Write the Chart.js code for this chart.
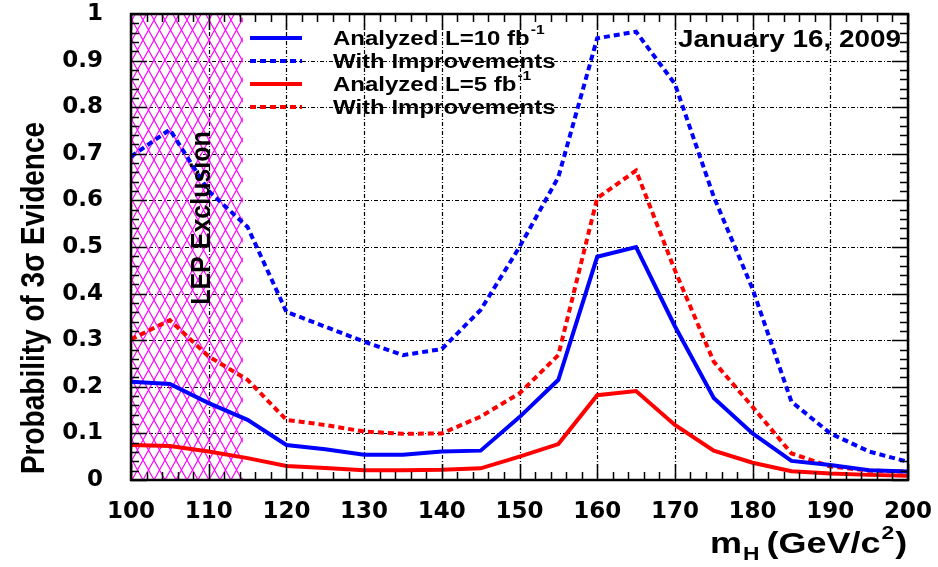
<!DOCTYPE html>
<html>
<head>
<meta charset="utf-8">
<script src="https://cdn.jsdelivr.net/npm/chart.js"></script>
<style>
  body { margin: 0; background: #fff; }
  #wrap { width: 938px; height: 567px; }
</style>
</head>
<body>
<div id="wrap"><canvas id="chart" width="938" height="567"></canvas></div>
<script>
// -------------------- Data --------------------
const massH = [100, 105, 110, 115, 120, 125, 130, 135, 140, 145, 150,
               155, 160, 165, 170, 175, 180, 185, 190, 195, 200];
const analyzed10 = [0.211, 0.206, 0.165, 0.129, 0.075, 0.066, 0.054, 0.054, 0.061, 0.063, 0.135,
                    0.215, 0.479, 0.50, 0.33, 0.176, 0.10, 0.041, 0.032, 0.021, 0.018];
const improved10 = [0.694, 0.752, 0.62, 0.543, 0.361, 0.329, 0.297, 0.268, 0.281, 0.365, 0.50,
                    0.65, 0.948, 0.962, 0.85, 0.608, 0.41, 0.168, 0.10, 0.061, 0.039];
const analyzed5 = [0.075, 0.073, 0.061, 0.047, 0.030, 0.026, 0.021, 0.021, 0.022, 0.025, 0.05,
                   0.077, 0.182, 0.191, 0.118, 0.063, 0.037, 0.019, 0.014, 0.011, 0.009];
const improved5 = [0.302, 0.343, 0.265, 0.215, 0.129, 0.118, 0.104, 0.099, 0.100, 0.136, 0.186,
                   0.268, 0.605, 0.664, 0.45, 0.254, 0.157, 0.057, 0.029, 0.020, 0.018];
const lepLimit = 114.4;   // LEP excluded region ends here

const legendRows = [
  { text: "Analyzed L=10 fb", sup: "-1", color: "#0000ff", dash: [] },
  { text: "With Improvements", sup: "", color: "#0000ff", dash: [6, 4] },
  { text: "Analyzed L=5 fb", sup: "-1", color: "#ff0000", dash: [] },
  { text: "With Improvements", sup: "", color: "#ff0000", dash: [6, 4] },
];
const dateText = "January 16, 2009";
const FONT = "'Liberation Sans', Arial, Helvetica, sans-serif";
const TICKFONT = "'DejaVu Sans', 'Liberation Sans', sans-serif";
const SX = 1.2;  // the ROOT text looks wider than normal Helvetica

// -------------------- Hatch pattern for LEP --------------------
function makeHatch() {
  const c = document.createElement("canvas");
  c.width = 11; c.height = 20;
  const g = c.getContext("2d");
  g.strokeStyle = "#ff00ff";
  g.lineWidth = 1.1;
  g.beginPath();
  g.moveTo(0, 0); g.lineTo(11, 20);
  g.moveTo(11, 0); g.lineTo(0, 20);
  g.stroke();
  return g.createPattern(c, "repeat");
}

function pts(vals) {
  return vals.map((v, i) => ({ x: massH[i], y: v }));
}

// draws wide text (scaled in x)
function wideText(ctx, str, x, y, font, sx) {
  ctx.save();
  ctx.font = font;
  ctx.translate(x, y);
  ctx.scale(sx, 1);
  ctx.fillText(str, 0, 0);
  const w = ctx.measureText(str).width * sx;
  ctx.restore();
  return w;
}

// -------------------- Grid --------------------
const grid = {
  id: "dashgrid",
  beforeDatasetsDraw(chart) {
    const ctx = chart.ctx;
    const a = chart.chartArea;
    const xs = chart.scales.x, ys = chart.scales.y;
    ctx.save();
    ctx.strokeStyle = "#000";
    ctx.lineWidth = 1.2;
    ctx.setLineDash([4, 2, 1, 2]);
    ctx.beginPath();
    xs.ticks.forEach(t => {
      const px = Math.round(xs.getPixelForValue(t.value)) + 0.5;
      ctx.moveTo(px, a.top); ctx.lineTo(px, a.bottom);
    });
    ys.ticks.forEach(t => {
      const py = Math.round(ys.getPixelForValue(t.value)) + 0.5;
      ctx.moveTo(a.left, py); ctx.lineTo(a.right, py);
    });
    ctx.stroke();
    ctx.restore();
  }
};

// -------------------- Frame, ticks, texts --------------------
const decor = {
  id: "decor",
  afterDraw(chart) {
    const ctx = chart.ctx;
    const a = chart.chartArea;
    const xs = chart.scales.x, ys = chart.scales.y;
    ctx.save();
    ctx.strokeStyle = "#000";
    ctx.lineWidth = 1.5;
    ctx.beginPath();
    for (let v = 100; v <= 200; v += 2) {
      const px = Math.round(xs.getPixelForValue(v)) + 0.5;
      const len = v % 10 === 0 ? 16 : 8;
      ctx.moveTo(px, a.bottom); ctx.lineTo(px, a.bottom - len);
      ctx.moveTo(px, a.top); ctx.lineTo(px, a.top + len);
    }
    for (let i = 0; i <= 50; i++) {
      const py = Math.round(ys.getPixelForValue(i / 50)) + 0.5;
      const len = i % 5 === 0 ? 16 : 8;
      ctx.moveTo(a.left, py); ctx.lineTo(a.left + len, py);
      ctx.moveTo(a.right, py); ctx.lineTo(a.right - len, py);
    }
    ctx.stroke();

    // frame
    ctx.lineWidth = 2.5;
    ctx.strokeRect(a.left, a.top, a.right - a.left, a.bottom - a.top);

    // legend
    ctx.textBaseline = "alphabetic";
    ctx.textAlign = "left";
    legendRows.forEach((r, i) => {
      const y = 38 + i * 23;
      ctx.strokeStyle = r.color;
      ctx.lineWidth = 4;
      ctx.setLineDash(r.dash);
      ctx.beginPath(); ctx.moveTo(250, y); ctx.lineTo(302, y); ctx.stroke();
      ctx.setLineDash([]);
      ctx.fillStyle = "#000";
      const w = wideText(ctx, r.text, 333, y + 7, "bold 20px " + FONT, SX);
      if (r.sup) wideText(ctx, r.sup, 333 + w + 1, y - 4, "bold 13px " + FONT, SX);
    });

    // date
    ctx.save();
    ctx.font = "bold 24px " + FONT;
    const dw = ctx.measureText(dateText).width;
    ctx.restore();
    wideText(ctx, dateText, 901 - 223, 47, "bold 24px " + FONT, 223 / dw);

    // LEP text
    ctx.save();
    ctx.translate(210, 218);
    ctx.rotate(-Math.PI / 2);
    ctx.scale(1, 1.1);
    ctx.textAlign = "center";
    ctx.font = "bold 25px " + FONT;
    ctx.fillText("LEP Exclusion", 0, 0);
    ctx.restore();

    // y title
    ctx.save();
    ctx.translate(44, 298);
    ctx.rotate(-Math.PI / 2);
    ctx.scale(1, SX);
    ctx.textAlign = "center";
    ctx.font = "bold 28px " + FONT;
    ctx.fillText("Probability of 3\u03c3 Evidence", 0, 0);
    ctx.restore();

    // x title: m_H (GeV/c^2)
    ctx.textAlign = "left";
    let x = 710;
    const base = 553;
    const big = "bold 30px " + FONT, small = "bold 19px " + FONT;
    x += wideText(ctx, "m", x, base, big, SX);
    x += wideText(ctx, "H", x + 1, base + 7, small, SX) + 8;
    x += wideText(ctx, "(GeV/c", x, base, big, SX);
    x += wideText(ctx, "2", x + 1, base - 14, small, SX) + 2;
    wideText(ctx, ")", x, base, big, SX);
    ctx.restore();
  }
};

// -------------------- Chart --------------------
const lineSet = (label, vals, color, dash) => ({
  label: label,
  data: pts(vals),
  borderColor: color,
  backgroundColor: color,
  borderWidth: 4,
  borderDash: dash,
  pointRadius: 0,
  tension: 0,
  fill: false,
  order: 1,
});

new Chart(document.getElementById("chart"), {
  type: "line",
  data: {
    datasets: [
      {
        label: "LEP Exclusion",
        data: [{ x: 100, y: 1 }, { x: lepLimit, y: 1 }],
        borderWidth: 0,
        pointRadius: 0,
        backgroundColor: makeHatch(),
        fill: "origin",
        order: 10,
      },
      lineSet("Analyzed L=10", analyzed10, "#0000ff", []),
      lineSet("With Improvements 10", improved10, "#0000ff", [6, 4]),
      lineSet("Analyzed L=5", analyzed5, "#ff0000", []),
      lineSet("With Improvements 5", improved5, "#ff0000", [6, 4]),
    ],
  },
  options: {
    responsive: false,
    animation: false,
    layout: { padding: { top: 14, right: 30, left: 0, bottom: 0 } },
    plugins: { legend: { display: false }, tooltip: { enabled: false } },
    scales: {
      x: {
        type: "linear",
        min: 100, max: 200,
        afterFit: (s) => { s.height = 87; s.paddingLeft = 0; s.paddingRight = 0; },
        ticks: { stepSize: 10, color: "#000", padding: 10, font: { family: TICKFONT, size: 23, weight: "bold" } },
        grid: { display: false },
        border: { display: false },
      },
      y: {
        min: 0, max: 1,
        afterFit: (s) => { s.width = 131; s.paddingTop = 0; s.paddingBottom = 0; },
        ticks: {
          stepSize: 0.1, color: "#000", padding: 20,
          font: { family: TICKFONT, size: 23, weight: "bold" },
          callback: (v) => String(Math.round(v * 10) / 10),
        },
        grid: { display: false },
        border: { display: false },
      },
    },
  },
  plugins: [grid, decor],
});
</script>
</body>
</html>
